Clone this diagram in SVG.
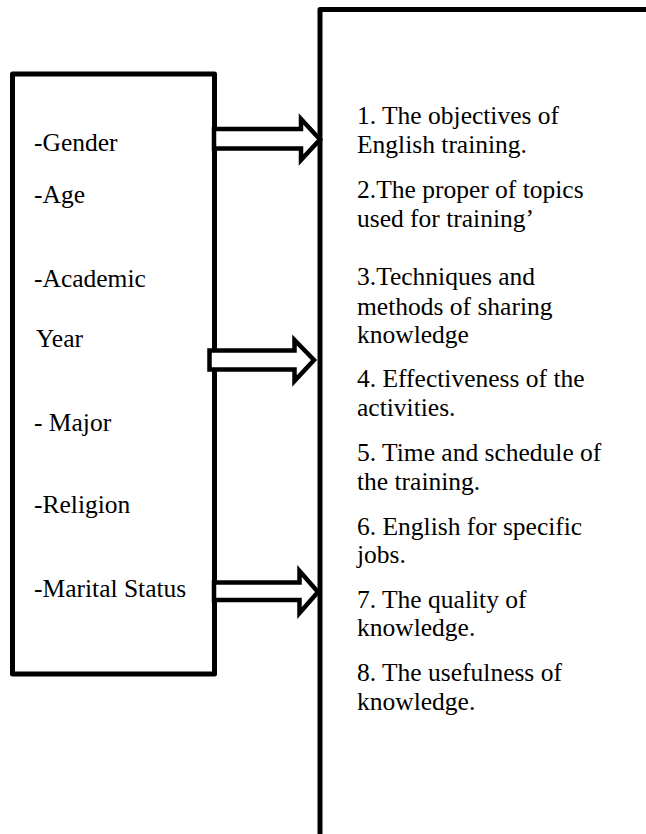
<svg xmlns="http://www.w3.org/2000/svg" width="646" height="834" viewBox="0 0 646 834">
<style>
.box{fill:none;stroke:#000;stroke-width:5;stroke-linejoin:round}
.arr{fill:#fff;stroke:#000;stroke-width:4.5;stroke-linejoin:miter}
text{font-family:"Liberation Serif","Times New Roman",serif;font-size:25.5px;fill:#000}
</style>
<rect width="646" height="834" fill="#fff"/>
<g id="factors">
<rect class="box" x="12.5" y="74" width="202" height="600"/>
<text x="34" y="151">-Gender</text>
<text x="34" y="203">-Age</text>
<text x="34" y="287">-Academic</text>
<text x="36" y="347">Year</text>
<text x="34" y="431">- Major</text>
<text x="34" y="513">-Religion</text>
<text x="34" y="597">-Marital Status</text>
</g>
<g id="outcomes">
<path class="box" d="M320 840 V9.5 H650"/>
<text x="357" y="124">1. The objectives of</text>
<text x="357" y="153">English training.</text>
<text x="357" y="198">2.The proper of topics</text>
<text x="357" y="227">used for training’</text>
<text x="357" y="285">3.Techniques and</text>
<text x="357" y="315">methods of sharing</text>
<text x="357" y="343">knowledge</text>
<text x="357" y="387">4. Effectiveness of the</text>
<text x="357" y="416">activities.</text>
<text x="357" y="461">5. Time and schedule of</text>
<text x="357" y="490">the training.</text>
<text x="357" y="535">6. English for specific</text>
<text x="357" y="563">jobs.</text>
<text x="357" y="608">7. The quality of</text>
<text x="357" y="636">knowledge.</text>
<text x="357" y="681">8. The usefulness of</text>
<text x="357" y="710">knowledge.</text>
</g>
<g id="connectors">
<polygon class="arr" points="214,129 301,129 301,119 320,139.5 301,160 301,148.5 214,148.5"/>
<polygon class="arr" points="209.5,350.5 294.5,350.5 294.5,340 314,360 294.5,381 294.5,369.5 209.5,369.5"/>
<polygon class="arr" points="214,582.5 299.5,582.5 299.5,571 318,592 299.5,613 299.5,600 214,600"/>
</g>
</svg>
